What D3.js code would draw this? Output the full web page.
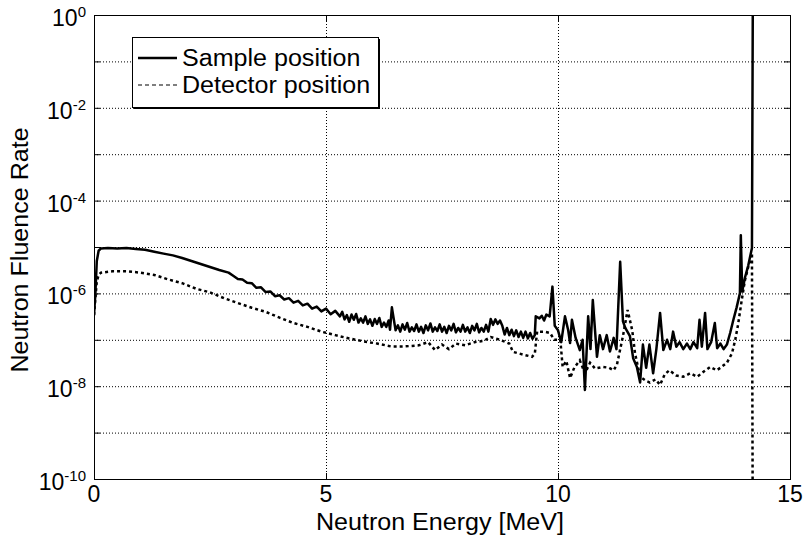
<!DOCTYPE html>
<html>
<head>
<meta charset="UTF-8">
<title>Neutron fluence rate</title>
<script src="https://d3js.org/d3.v7.min.js"></script>
<style>
  body { margin: 0; background: #fff; }
  text { font-family: "Liberation Sans", Arial, Helvetica, sans-serif; fill: #000; }
</style>
</head>
<body>
<div id="chart"></div>
<script>
// values (energy in MeV, fluence rate)
const energySample = [0.00,0.03,0.06,0.10,0.15,0.3,0.5,0.7,0.9,1.1,1.3,1.5,1.7,1.9,2.1,2.3,2.5,2.7,2.9,
  3.0,3.1,3.2,3.3,3.4,3.5,3.6,3.7,3.8,3.9,4.0,4.1,4.2,4.3,4.4,4.5,4.6,4.7,4.8,4.9,5.0,5.1,5.2,5.3,
  5.35,5.40,5.45,5.50,5.55,5.60,5.65,5.70,5.75,5.80,5.85,5.90,5.95,6.00,6.05,6.10,6.15,6.20,6.25,6.30,6.35,
  6.38,6.42,6.46,6.50,6.55,6.60,6.65,6.70,6.75,6.80,6.85,6.90,6.95,7.00,7.05,7.10,7.15,7.20,7.25,7.30,7.35,7.40,7.45,
  7.50,7.55,7.60,7.65,7.70,7.75,7.80,7.85,7.90,7.95,8.00,8.05,8.10,8.15,8.20,8.25,8.30,8.35,8.40,8.45,8.50,
  8.55,8.60,8.65,8.70,8.75,8.80,8.85,8.90,8.95,9.00,9.05,9.10,9.15,9.20,9.25,9.30,9.35,9.40,9.45,9.50,9.52,
  9.6,9.65,9.7,9.75,9.82,9.88,9.93,10.0,10.07,10.15,10.22,10.26,10.3,10.38,10.47,10.53,10.58,
  10.65,10.7,10.75,10.84,10.9,10.97,11.05,11.12,11.2,11.26,11.34,11.4,11.45,11.55,11.62,11.7,11.77,11.83,11.9,11.97,12.05,12.12,12.2,12.27,
  12.35,12.42,12.48,12.55,12.62,12.7,12.78,12.85,12.92,13.0,13.05,13.1,13.17,13.22,13.3,13.38,13.43,13.5,13.57,13.64,13.71,13.78,13.85,
  13.92,13.94,13.97,14.03,14.1,14.18,14.2];
const fluenceSample = [3.4e-7,1.0e-6,5.0e-6,8.3e-6,9.3e-6,9.5e-6,9.3e-6,9.5e-6,9.1e-6,8.7e-6,7.9e-6,7.2e-6,6.6e-6,5.8e-6,5.0e-6,4.3e-6,3.7e-6,3.2e-6,2.8e-6,
  2.4e-6,2.05e-6,2.0e-6,1.7e-6,1.66e-6,1.32e-6,1.35e-6,1.07e-6,1.1e-6,8.7e-7,9.1e-7,7.4e-7,7.9e-7,6.3e-7,6.9e-7,5.5e-7,6.0e-7,4.7e-7,5.2e-7,4.1e-7,4.7e-7,3.55e-7,4.2e-7,3.2e-7,
  4.0e-7,2.75e-7,3.4e-7,2.45e-7,3.5e-7,2.7e-7,3.6e-7,2.35e-7,2.9e-7,2.35e-7,3.2e-7,2.2e-7,2.75e-7,2.0e-7,2.8e-7,2.2e-7,2.95e-7,1.9e-7,2.35e-7,1.9e-7,2.6e-7,
  1.65e-7,5.0e-7,2.8e-7,1.6e-7,2.05e-7,1.5e-7,2.15e-7,1.65e-7,2.3e-7,1.5e-7,1.85e-7,1.55e-7,2.15e-7,1.5e-7,1.9e-7,1.4e-7,2.05e-7,1.6e-7,2.25e-7,1.5e-7,1.85e-7,1.55e-7,2.15e-7,
  1.5e-7,1.9e-7,1.4e-7,2.0e-7,1.6e-7,2.2e-7,1.45e-7,1.8e-7,1.5e-7,2.1e-7,1.5e-7,1.85e-7,1.4e-7,2.0e-7,1.6e-7,2.2e-7,1.45e-7,1.8e-7,1.5e-7,2.1e-7,1.5e-7,
  2.8e-7,2.1e-7,2.75e-7,2.2e-7,2.6e-7,2.0e-7,1.3e-7,1.8e-7,1.26e-7,1.65e-7,1.2e-7,1.6e-7,1.15e-7,1.5e-7,1.1e-7,1.5e-7,1.07e-7,1.4e-7,1.05e-7,1.26e-7,3.2e-7,
  2.9e-7,3.3e-7,2.6e-7,3.5e-7,3.2e-7,1.4e-6,2.0e-7,1.6e-7,8.9e-8,3.2e-7,1.6e-7,8.5e-8,2.7e-7,1.1e-7,6.0e-8,1.0e-7,8.3e-9,
  3.2e-7,6.3e-8,7.2e-7,4.3e-8,1.26e-7,6.3e-8,1.26e-7,5.6e-8,1.1e-7,6.3e-8,4.8e-6,2.5e-7,1.8e-7,1.2e-7,4.0e-8,2.6e-8,1.2e-8,7.9e-8,2.5e-8,7.9e-8,1.9e-8,6.3e-8,3.8e-7,6.0e-8,
  1.0e-7,6.3e-8,1.5e-7,7.1e-8,8.9e-8,6.3e-8,8.3e-8,6.3e-8,8.9e-8,6.6e-8,2.7e-7,7.1e-8,3.8e-7,6.3e-8,8.9e-8,2.3e-7,6.6e-8,8.3e-8,6.3e-8,7.9e-8,1.4e-7,2.7e-7,5.0e-7,
  1.0e-6,1.8e-5,1.1e-6,2.2e-6,4.0e-6,9.5e-6,5];

const energyDetector = [0.00,0.03,0.06,0.10,0.15,0.4,0.7,1.0,1.3,1.6,1.9,2.2,2.5,2.8,3.1,3.4,3.7,4.0,4.3,4.6,4.9,5.2,5.5,5.8,6.1,6.4,6.7,7.0,7.2,7.35,7.5,7.65,7.8,8.0,8.2,8.4,
  8.55,8.75,8.95,9.03,9.25,9.44,9.5,9.55,9.7,9.83,9.92,10.05,10.1,10.18,10.26,10.35,10.47,10.58,10.69,10.8,10.97,11.1,11.2,11.27,11.4,11.5,11.6,11.66,11.77,11.9,11.98,
  12.1,12.2,12.3,12.4,12.55,12.7,12.85,13.0,13.15,13.28,13.42,13.5,13.64,13.75,13.82,13.88,13.96,14.03,14.1,14.18,14.2];
const fluenceDetector = [3.4e-7,7.9e-7,1.8e-6,2.5e-6,2.8e-6,3.0e-6,3.0e-6,2.8e-6,2.5e-6,2.0e-6,1.66e-6,1.26e-6,1.05e-6,7.9e-7,6.2e-7,4.9e-7,4.0e-7,3.0e-7,2.3e-7,1.9e-7,1.5e-7,1.26e-7,1.07e-7,9.3e-8,8.3e-8,7.2e-8,7.2e-8,7.6e-8,8.9e-8,6.0e-8,7.9e-8,6.3e-8,8.3e-8,7.6e-8,8.9e-8,9.5e-8,
  1.15e-7,1.0e-7,8.3e-8,5.5e-8,4.8e-8,4.3e-8,5.0e-8,1.5e-7,1.5e-7,1.4e-7,1.0e-7,1.0e-7,2.6e-8,3.5e-8,1.5e-8,2.5e-8,3.6e-8,1.9e-8,3.2e-8,2.4e-8,2.6e-8,2.5e-8,2.2e-8,2.9e-8,1.2e-7,4.4e-7,1.6e-7,5.1e-8,1.6e-8,1.3e-8,1.2e-8,
  1.4e-8,1.07e-8,1.8e-8,2.2e-8,1.7e-8,1.6e-8,1.9e-8,1.6e-8,2.1e-8,2.6e-8,2.2e-8,2.5e-8,3.2e-8,5.1e-8,1.0e-7,2.1e-7,7.2e-7,1.95e-6,3.7e-6,7.4e-6,1e-12];

const xTicks = [0, 5, 10, 15];
const yTickExponents = [0, -1, -2, -3, -4, -5, -6, -7, -8, -9, -10];
const yLabelExponents = [0, -2, -4, -6, -8, -10];
const legendNames = ['Sample position', 'Detector position'];

const W = 808, H = 540;
const pLeft = 94, pRight = 790, pTop = 15, pBottom = 479;

const svg = d3.select('#chart').append('svg').attr('width', W).attr('height', H);

const x = d3.scaleLinear().domain([0, 15]).range([pLeft, pRight]);
const y = d3.scaleLog().domain([1e-10, 1]).range([pBottom, pTop]);

// the reference font runs a bit wider than Liberation Sans
const stretch = sel => sel.each(function () {
  const w = this.getComputedTextLength();
  d3.select(this).attr('textLength', w * 1.09).attr('lengthAdjust', 'spacingAndGlyphs');
});

svg.append('defs').append('clipPath').attr('id', 'plotclip')
  .append('rect').attr('x', pLeft).attr('y', pTop).attr('width', pRight - pLeft).attr('height', pBottom - pTop);

// grid lines (dotted)
const grid = svg.append('g').attr('stroke', '#000').attr('stroke-width', 1).attr('stroke-dasharray', '1,2');
grid.selectAll('.hg').data(yTickExponents.slice(1, -1)).enter().append('line')
  .attr('x1', pLeft).attr('x2', pRight)
  .attr('y1', d => y(Math.pow(10, d)) + 0.5).attr('y2', d => y(Math.pow(10, d)) + 0.5);
grid.selectAll('.vg').data(xTicks.slice(1, -1)).enter().append('line')
  .attr('y1', pTop).attr('y2', pBottom)
  .attr('x1', d => x(d) + 0.5).attr('x2', d => x(d) + 0.5);

// the two spectra
const line = d3.line().x(d => x(d[0])).y(d => y(d[1]));
const plot = svg.append('g').attr('clip-path', 'url(#plotclip)');
plot.append('path')
  .datum(d3.zip(energyDetector, fluenceDetector))
  .attr('d', line).attr('fill', 'none').attr('stroke', '#000')
  .attr('stroke-width', 2.5).attr('stroke-dasharray', '3,3');
plot.append('path')
  .datum(d3.zip(energySample, fluenceSample))
  .attr('d', line).attr('fill', 'none').attr('stroke', '#000')
  .attr('stroke-width', 2.5).attr('stroke-linejoin', 'round');

// axes: ticks point inward on all four sides
const yVals = yTickExponents.map(e => Math.pow(10, e));
const axL = svg.append('g').attr('transform', `translate(${pLeft},0)`)
  .call(d3.axisLeft(y).tickValues(yVals).tickSizeInner(-6).tickSizeOuter(0).tickFormat(''));
const axR = svg.append('g').attr('transform', `translate(${pRight},0)`)
  .call(d3.axisRight(y).tickValues(yVals).tickSizeInner(-6).tickSizeOuter(0).tickFormat(''));
const axB = svg.append('g').attr('transform', `translate(0,${pBottom})`)
  .call(d3.axisBottom(x).tickValues(xTicks).tickSizeInner(-6).tickSizeOuter(0).tickFormat(''));
const axT = svg.append('g').attr('transform', `translate(0,${pTop})`)
  .call(d3.axisTop(x).tickValues(xTicks).tickSizeInner(-6).tickSizeOuter(0).tickFormat(''));
[axL, axR, axB, axT].forEach(a => { a.select('.domain').remove(); a.selectAll('line').attr('stroke', '#000'); });

svg.append('rect').attr('x', pLeft + 0.5).attr('y', pTop + 0.5)
  .attr('width', pRight - pLeft).attr('height', pBottom - pTop)
  .attr('fill', 'none').attr('stroke', '#000').attr('stroke-width', 1);

// tick labels
svg.selectAll('.xl').data(xTicks).enter().append('text')
  .attr('x', d => x(d)).attr('y', pBottom + 23)
  .attr('text-anchor', 'middle').attr('font-size', 23).text(d => d);

const yl = svg.selectAll('.yl').data(yLabelExponents).enter().append('text')
  .attr('x', pLeft - 8).attr('y', d => y(Math.pow(10, d)) + 11)
  .attr('text-anchor', 'end').attr('font-size', 23);
yl.append('tspan').text('10');
yl.append('tspan').attr('dy', -9).attr('font-size', 15).text(d => d === 0 ? '0' : '-' + (-d));

// axis titles
svg.append('text').attr('x', 440).attr('y', 530)
  .attr('text-anchor', 'middle').attr('font-size', 23).text('Neutron Energy [MeV]').call(stretch);
svg.append('text').attr('transform', `translate(28,250) rotate(-90)`)
  .attr('text-anchor', 'middle').attr('font-size', 23).text('Neutron Fluence Rate').call(stretch);

// legend with drop shadow
const lg = svg.append('g').attr('transform', 'translate(132,37)');
lg.append('rect').attr('x', 2).attr('y', 2).attr('width', 246).attr('height', 70).attr('fill', '#000');
lg.append('rect').attr('x', 0.5).attr('y', 0.5).attr('width', 246).attr('height', 70)
  .attr('fill', '#fff').attr('stroke', '#000');
const rows = lg.selectAll('.row').data(legendNames).enter().append('g')
  .attr('transform', (d, i) => `translate(0,${21 + i * 27})`);
rows.append('line').attr('x1', 6).attr('x2', 45).attr('y1', 0).attr('y2', 0)
  .attr('stroke', '#000').attr('stroke-width', (d, i) => i === 0 ? 2.5 : 1.2)
  .attr('stroke-dasharray', (d, i) => i === 0 ? null : '4,3');
rows.append('text').attr('x', 50).attr('y', 8).attr('font-size', 23).text(d => d).call(stretch);
</script>
</body>
</html>
